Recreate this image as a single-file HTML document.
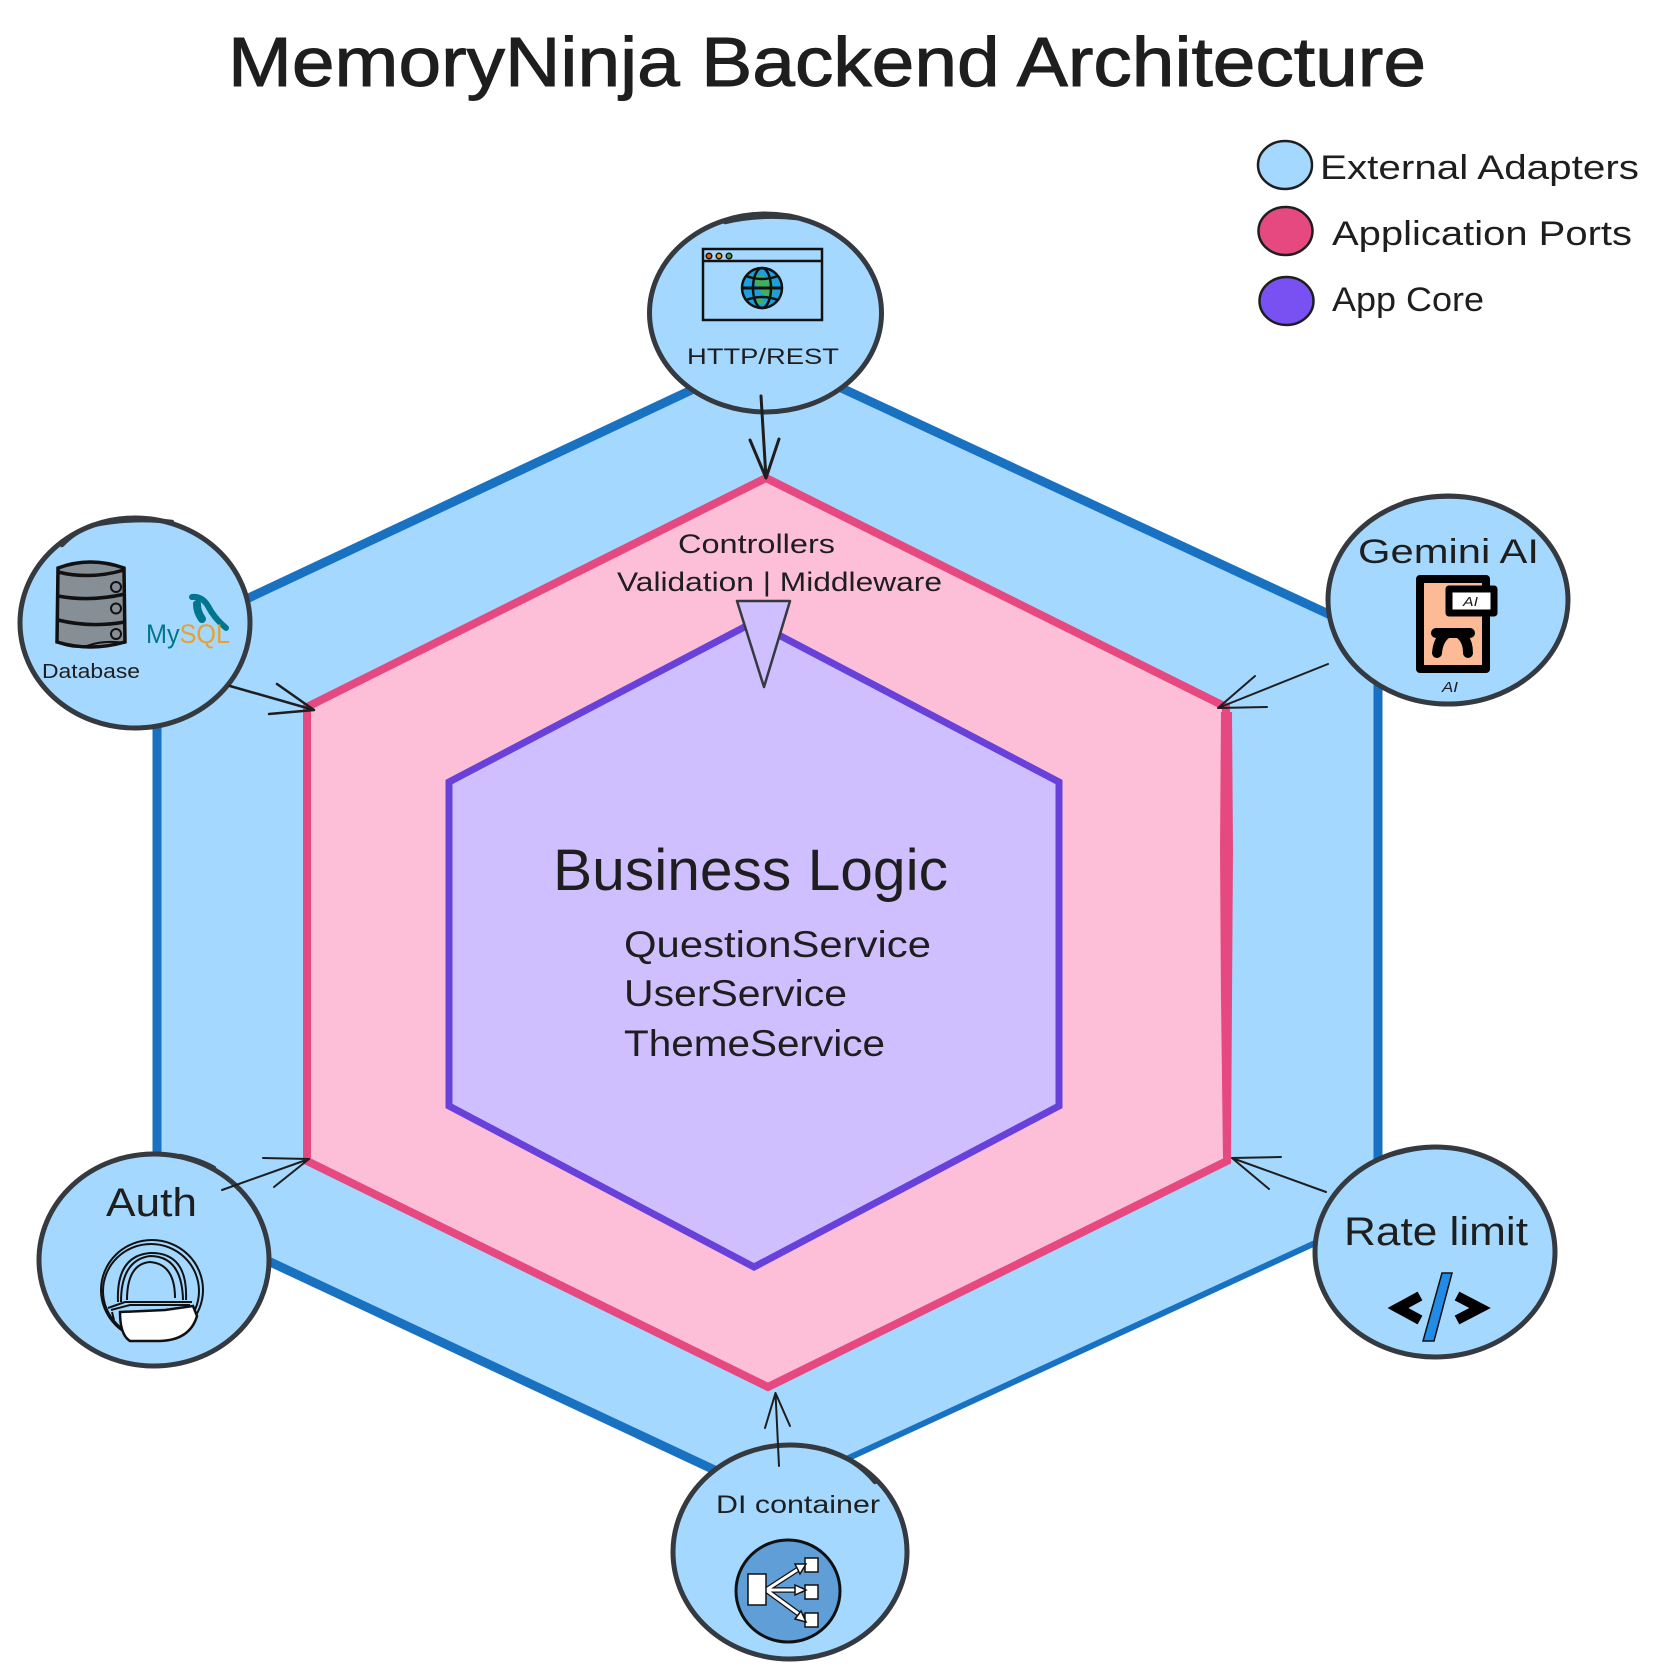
<!DOCTYPE html>
<html lang="en"><head><meta charset="utf-8"><title>MemoryNinja Backend Architecture</title>
<style>html,body{margin:0;padding:0;background:#fff}svg{display:block}
text{font-family:"Liberation Sans",sans-serif;fill:#1e1e1e}</style></head>
<body>
<svg xmlns="http://www.w3.org/2000/svg" width="1657" height="1679" viewBox="0 0 1657 1679">
<rect width="1657" height="1679" fill="#fff"/>
<!-- outer hexagon -->
<polygon points="768,354 1378,637 1378,1214 768,1495 157,1209 157,641" fill="#a5d8ff"/>
<g fill="none" stroke="#1971c2" stroke-linecap="square">
<path d="M157,641 L768,354 L1378,637 L1378,1214" stroke-width="9"/>
<path d="M1378,1214 L790,1485" stroke-width="6"/>
<path d="M768,1495 L157,1209 L157,641" stroke-width="9"/>
</g>
<!-- middle hexagon -->
<polygon points="766,478 1226,707 1227,1161 768,1387 307,1161 307,707" fill="#fcbfd7" stroke="#e64980" stroke-width="8"/>
<polygon points="1221,712 1232,712 1233,850 1232,1000 1231,1158 1223,1158 1221,1000 1220,850" fill="#e64980"/>
<!-- inner hexagon -->
<polygon points="754,622 1059,782 1059,1106 754,1267 449,1106 449,782" fill="#d0bfff" stroke="#6741d9" stroke-width="7"/>
<polygon points="737,601 790,601 764,687" fill="#d0bfff" stroke="#343a40" stroke-width="2.500" stroke-linejoin="round"/>

<!-- title -->
<text x="228" y="86" font-size="70" textLength="1198" lengthAdjust="spacingAndGlyphs" stroke="#1e1e1e" stroke-width="1">MemoryNinja Backend Architecture</text>

<!-- legend -->
<ellipse cx="1285" cy="165" rx="27" ry="24" fill="#a5d8ff" stroke="#1e1e1e" stroke-width="2.500"/>
<ellipse cx="1285.500" cy="231" rx="27" ry="24" fill="#e64980" stroke="#1e1e1e" stroke-width="2.500"/>
<ellipse cx="1286.500" cy="301" rx="27" ry="24" fill="#7950f2" stroke="#1e1e1e" stroke-width="2.500"/>
<text x="1320" y="179" font-size="34" textLength="319" lengthAdjust="spacingAndGlyphs">External Adapters</text>
<text x="1332" y="245" font-size="34" textLength="300" lengthAdjust="spacingAndGlyphs">Application Ports</text>
<text x="1332" y="311" font-size="34" textLength="152" lengthAdjust="spacingAndGlyphs">App Core</text>

<!-- center text -->
<text x="678" y="553" font-size="27" textLength="157" lengthAdjust="spacingAndGlyphs">Controllers</text>
<text x="617" y="591" font-size="27" textLength="325" lengthAdjust="spacingAndGlyphs">Validation | Middleware</text>
<text x="553" y="890" font-size="58" textLength="395" lengthAdjust="spacingAndGlyphs">Business Logic</text>
<text x="624" y="957" font-size="37" textLength="307" lengthAdjust="spacingAndGlyphs">QuestionService</text>
<text x="624" y="1006" font-size="37" textLength="223" lengthAdjust="spacingAndGlyphs">UserService</text>
<text x="624" y="1056" font-size="37" textLength="261" lengthAdjust="spacingAndGlyphs">ThemeService</text>

<!-- adapter circles -->
<g fill="#a5d8ff" stroke="#343a40" stroke-width="5">
<ellipse cx="765.500" cy="313" rx="116" ry="99"/>
<ellipse cx="135" cy="623" rx="115" ry="105"/>
<ellipse cx="1448" cy="600" rx="120" ry="104"/>
<ellipse cx="154" cy="1260" rx="115" ry="106"/>
<ellipse cx="790" cy="1552" rx="117" ry="107"/>
<ellipse cx="1435" cy="1252" rx="120" ry="105"/>
</g>
<g fill="none" stroke="#343a40" stroke-width="4.500" stroke-linecap="round">
<path d="M725,222 Q760,214 797,218"/>
<path d="M62,545 Q74,532 93,525 Q135,517 172,522"/>
<path d="M1405,502 Q1430,495 1462,497"/>
<path d="M180,1156 Q200,1160 214,1168"/>
<path d="M824,1449 Q855,1458 875,1482"/>
<path d="M1382,1158 Q1405,1149 1432,1147"/>
</g>

<!-- HTTP icon -->
<g fill="none" stroke="#111" stroke-width="2.500">
<rect x="703" y="249" width="119" height="71"/>
<line x1="702" y1="261" x2="823" y2="261"/>
<circle cx="709" cy="256" r="2.800" fill="#e8590c" stroke-width="1.500"/>
<circle cx="719" cy="256" r="2.800" fill="#f0a020" stroke-width="1.500"/>
<circle cx="729" cy="256" r="2.800" fill="#40a060" stroke-width="1.500"/>
<circle cx="762" cy="288" r="20" fill="#1c9fdc"/>
<path d="M752,276 Q765,272 772,284 Q776,296 766,298 Q758,290 752,276Z" fill="#40b060" stroke="none"/>
<path d="M752,298 Q760,294 766,304 L757,304Z" fill="#40b060" stroke="none"/>
<ellipse cx="762" cy="288" rx="9" ry="20"/>
<line x1="741" y1="288" x2="783" y2="288" stroke-width="3"/>
<path d="M746,276 Q762,282 778,276M746,300 Q762,294 778,300"/>
</g>
<text x="687" y="364" font-size="22" textLength="152" lengthAdjust="spacingAndGlyphs">HTTP/REST</text>

<!-- Database icon -->
<g stroke="#111" stroke-width="3.500" fill="#868e96">
<path d="M58,568 Q90,556 124,568 L125,642 Q90,652 57,642Z"/>
<path d="M58,572 Q90,580 124,570M58,596 Q90,602 125,594M58,620 Q90,628 125,622" fill="none"/>
<path d="M56,642 Q75,650 90,645 Q105,640 125,643" fill="none" stroke-width="2"/>
<circle cx="116" cy="587" r="5" fill="none" stroke-width="2"/>
<circle cx="116" cy="608.500" r="5" fill="none" stroke-width="2"/>
<circle cx="116" cy="634" r="5" fill="none" stroke-width="2"/>
</g>
<text x="42" y="678" font-size="20" textLength="98" lengthAdjust="spacingAndGlyphs">Database</text>
<path d="M192,597 Q202,596 208,606 Q214,618 226,628" fill="none" stroke="#00758f" stroke-width="6" stroke-linecap="round"/>
<path d="M197,604 Q197,612 202,619" fill="none" stroke="#00758f" stroke-width="8" stroke-linecap="round"/>
<text x="146" y="643" font-size="27" textLength="84" lengthAdjust="spacingAndGlyphs" style="fill:#00758f">My<tspan style="fill:#e8a030">SQL</tspan></text>

<!-- Gemini icon -->
<text x="1358" y="563" font-size="34" textLength="181" lengthAdjust="spacingAndGlyphs">Gemini AI</text>
<rect x="1420" y="579" width="66" height="90" fill="#fdba96" stroke="#000" stroke-width="8" stroke-linejoin="round"/>
<rect x="1449" y="589" width="45" height="24" fill="#fff" stroke="#000" stroke-width="7" stroke-linejoin="round"/>
<text x="1463" y="606" font-size="13" textLength="15" lengthAdjust="spacingAndGlyphs" style="font-style:italic">AI</text>
<path d="M1436,633 H1470 M1446,634 Q1438,640 1437,653 M1460,634 Q1468,640 1468,653" fill="none" stroke="#000" stroke-width="10" stroke-linecap="round"/>
<text x="1442" y="692" font-size="15" textLength="16" lengthAdjust="spacingAndGlyphs" style="font-style:italic">AI</text>

<!-- Auth icon -->
<text x="106" y="1216" font-size="40" textLength="91" lengthAdjust="spacingAndGlyphs">Auth</text>
<g fill="none" stroke="#111" stroke-width="2">
<ellipse cx="152" cy="1290" rx="51" ry="50"/>
<ellipse cx="151" cy="1291" rx="48" ry="47"/>
<path d="M118,1302 Q116,1256 150,1253 Q188,1252 186,1300"/>
<path d="M121,1302 Q121,1260 150,1256 Q182,1256 183,1300"/>
<path d="M127,1300 Q127,1264 150,1262 Q175,1264 175,1298"/>
<path d="M108,1308 L125,1302 L192,1302"/>
<path d="M111,1310 L130,1305 L190,1305 M114,1320 L112,1312"/>
<path d="M120,1312 L165,1310 L193,1306 L197,1316 Q190,1340 160,1341 L130,1341 Q120,1335 120,1312Z" fill="#fff" stroke-width="2.500"/>
</g>

<!-- DI icon -->
<text x="716" y="1513" font-size="25" textLength="164" lengthAdjust="spacingAndGlyphs">DI container</text>
<ellipse cx="788" cy="1591" rx="52" ry="51" fill="#5f9ed6" stroke="#111" stroke-width="3"/>
<g fill="#fff" stroke="#111" stroke-width="1.500">
<path d="M766,1590 L803,1566M766,1590 L803,1590M766,1590 L803,1617" stroke="#111" stroke-width="5.500" fill="none"/>
<path d="M766,1590 L803,1566M766,1590 L803,1590M766,1590 L803,1617" stroke="#fff" stroke-width="3" fill="none"/>
<rect x="748" y="1574" width="18" height="31"/>
<rect x="805" y="1558" width="13" height="14"/>
<rect x="805" y="1585" width="13" height="14"/>
<rect x="805" y="1613" width="13" height="14"/>
<path d="M795,1564 L806,1564 L800,1574Z M795,1585 L806,1590 L795,1595Z M795,1619 L806,1622 L801,1611Z"/>
</g>

<!-- Rate limit icon -->
<text x="1344" y="1245" font-size="40" textLength="184" lengthAdjust="spacingAndGlyphs">Rate limit</text>
<path d="M1420,1296 L1398,1308 L1420,1320 M1457,1296 L1480,1308 L1457,1320" fill="none" stroke="#000" stroke-width="10"/>
<polygon points="1442,1273 1452,1273 1434,1341 1423,1341" fill="#228be6" stroke="#111" stroke-width="1.500"/>

<!-- arrows -->
<g fill="none" stroke="#1e1e1e" stroke-linecap="round" stroke-linejoin="round">
<path d="M761,396 L766,478 M750,440 L766,478 L779,439" stroke-width="3"/>
<path d="M230,686 L314,710 M277,684 L314,710 L269,714" stroke-width="2.500"/>
<path d="M1328,664 L1218,708 M1255,676 L1218,708 L1267,707" stroke-width="2"/>
<path d="M222,1190 L309,1159 M263,1158 L309,1159 L274,1187" stroke-width="2"/>
<path d="M1326,1192 L1232,1158 M1281,1157 L1232,1158 L1269,1189" stroke-width="2"/>
<path d="M779,1466 L775.500,1393 M765,1428 L775.500,1393 L790,1426" stroke-width="2"/>
</g>
</svg>
</body></html>
